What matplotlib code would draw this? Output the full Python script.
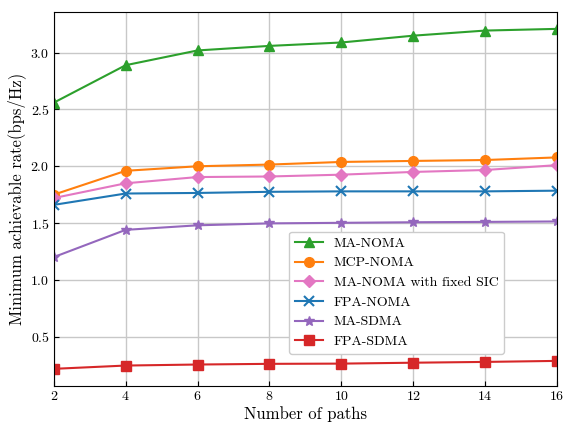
import matplotlib
matplotlib.use("AGG")
import matplotlib.pyplot as plt

plt.rcParams['font.family'] = 'serif'
plt.rcParams['font.serif'] = ['cmr10', 'DejaVu Serif']
plt.rcParams['mathtext.fontset'] = 'cm'
plt.rcParams['axes.formatter.use_mathtext'] = True
plt.rcParams['axes.unicode_minus'] = False

paths = [2, 4, 6, 8, 10, 12, 14, 16]
ma_noma = [2.56, 2.89, 3.02, 3.06, 3.09, 3.15, 3.195, 3.21]
mcp_noma = [1.75, 1.96, 2.00, 2.015, 2.038, 2.047, 2.055, 2.078]
ma_noma_fixed = [1.72, 1.85, 1.905, 1.91, 1.926, 1.95, 1.967, 2.01]
fpa_noma = [1.66, 1.76, 1.765, 1.775, 1.779, 1.779, 1.779, 1.785]
ma_sdma = [1.20, 1.44, 1.48, 1.497, 1.502, 1.507, 1.51, 1.514]
fpa_sdma = [0.216, 0.245, 0.254, 0.26, 0.262, 0.27, 0.277, 0.286]

fig = plt.figure(figsize=(5.66, 4.24), dpi=100)
ax = fig.add_axes([0.095, 0.09, 0.889, 0.882])

ax.plot(paths, ma_noma, color='tab:green', marker='^', ms=7, lw=1.5, label='MA-NOMA')
ax.plot(paths, mcp_noma, color='tab:orange', marker='o', ms=7, lw=1.5, label='MCP-NOMA')
ax.plot(paths, ma_noma_fixed, color='tab:pink', marker='D', ms=6.5, lw=1.5, label='MA-NOMA with fixed SIC')
ax.plot(paths, fpa_noma, color='tab:blue', marker='x', ms=7, mew=1.5, lw=1.5, label='FPA-NOMA')
ax.plot(paths, ma_sdma, color='tab:purple', marker='*', ms=7, lw=1.5, label='MA-SDMA')
ax.plot(paths, fpa_sdma, color='tab:red', marker='s', ms=7, lw=1.5, label='FPA-SDMA')

ax.set_xlim(2, 16)
ax.set_xticks(paths)
ax.set_yticks([0.5, 1.0, 1.5, 2.0, 2.5, 3.0])
ax.tick_params(direction='in', labelsize=10, pad=3)
ax.grid(True, color='#c8c8c8', lw=1)
ax.set_axisbelow(True)
ax.set_xlabel('Number of paths', fontsize=12, labelpad=2)
ax.set_ylabel('Minimum achievable rate(bps/Hz)', fontsize=12, labelpad=3)

ax.legend(loc='lower right', bbox_to_anchor=(0.895, 0.086), borderaxespad=0,
          fontsize=10, framealpha=1, edgecolor='#cccccc', fancybox=True)

plt.savefig("out.png")
